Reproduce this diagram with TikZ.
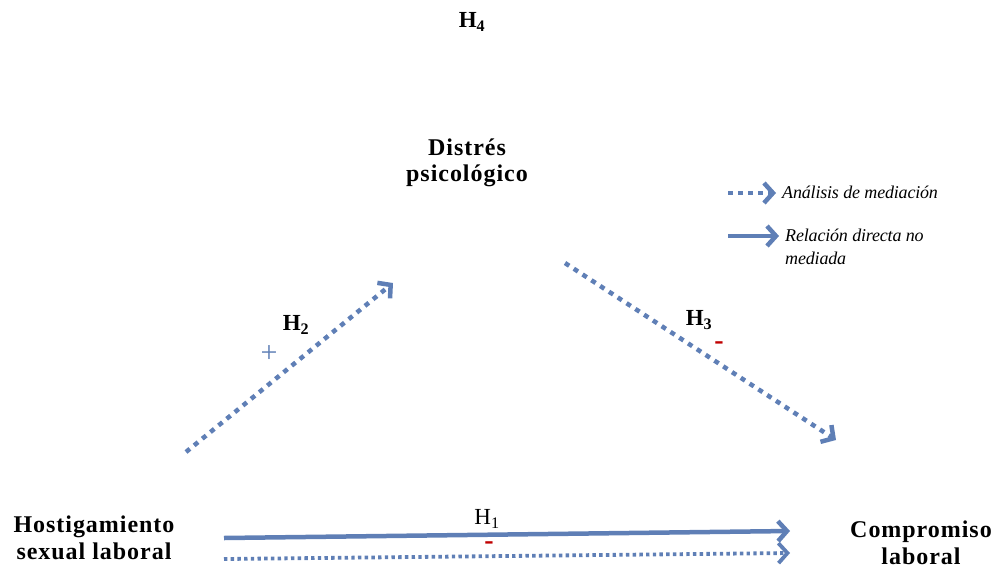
\documentclass[tikz,border=0pt]{standalone}
\usepackage{fontspec}
\setmainfont{Liberation Serif}
\usetikzlibrary{arrows.meta}
\definecolor{arrblue}{RGB}{95,127,182}
\definecolor{minred}{RGB}{192,0,0}
\tikzset{
  lbl/.style={font=\fontsize{24}{26.5}\selectfont\bfseries\addfontfeature{LetterSpace=4}, align=center, inner sep=0pt},
  hyp/.style={font=\fontsize{23}{24}\selectfont\bfseries, inner sep=0pt},
  legtxt/.style={font=\fontsize{18}{23}\selectfont\itshape\addfontfeature{LetterSpace=-1}, align=left, inner sep=0pt, anchor=north west},
  tip/.style={-{Straight Barb[length=9pt,width=20pt]}},
  solidarr/.style={draw=arrblue, line width=4.5pt, tip},
  dotdiag/.style={draw=arrblue, line width=4.5pt, dash pattern=on 5pt off 5.5pt, tip},
  dotflat/.style={draw=arrblue, line width=3.8pt, dash pattern=on 3.4pt off 3.3pt, tip},
  dotleg/.style={draw=arrblue, line width=4.5pt, dash pattern=on 5pt off 5pt, tip},
  redmin/.style={text=minred, font=\fontsize{28}{28}\selectfont\bfseries, inner sep=0pt, text height=9pt, text depth=-6pt},
}
\begin{document}
\begin{tikzpicture}[x=1pt,y=-1pt]
\useasboundingbox (0,0) rectangle (995,565);
% labels
\node[hyp] (h4) at (472,22) {H\textsubscript{4}};
\node[lbl] (dis) at (467,163) {Distrés\\psicológico};
\node[lbl] (hos) at (94,538) {Hostigamiento\\sexual laboral};
\node[lbl] (com) at (921,543) {Compromiso\\laboral};
% H2
\coordinate (a2s) at (186,452);
\coordinate (a2e) at (393,283);
\draw[dotdiag] (a2s) -- (a2e);
\node[hyp] (h2) at (296,325) {H\textsubscript{2}};
\node[text=arrblue, font=\fontsize{30}{30}\selectfont, inner sep=0pt] (plus) at (269,354) {+};
% H3
\coordinate (a3s) at (565,263);
\coordinate (a3e) at (836,440);
\draw[dotdiag] (a3s) -- (a3e);
\node[hyp] (h3) at (699,320) {H\textsubscript{3}};
\node[redmin] (m3) at (719,345) {-};
% H1
\coordinate (a1s) at (224,538);
\coordinate (a1e) at (790,531);
\draw[solidarr] (a1s) -- (a1e);
\coordinate (d1s) at (224,559);
\coordinate (d1e) at (790,553);
\draw[dotflat] (d1s) -- (d1e);
\node[hyp, font=\fontsize{23}{24}\selectfont] (h1) at (487,519) {H\textsubscript{1}};
\node[redmin] (m1) at (489,545) {-};
% legend
\coordinate (l1s) at (728,193);
\coordinate (l1e) at (776,193);
\draw[dotleg] (l1s) -- (l1e);
\node[legtxt] (lt1) at (782,186) {Análisis de mediación};
\coordinate (l2s) at (728,236);
\coordinate (l2e) at (779,236);
\draw[solidarr] (l2s) -- (l2e);
\node[legtxt] (lt2) at (785,229) {Relación directa no\\mediada};
\end{tikzpicture}
\end{document}
